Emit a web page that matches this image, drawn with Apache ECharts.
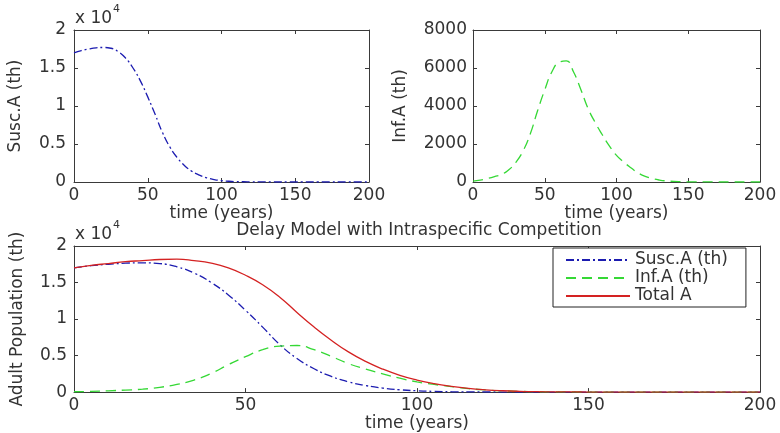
<!DOCTYPE html>
<html>
<head>
<meta charset="utf-8">
<script src="https://cdn.jsdelivr.net/npm/echarts@6/dist/echarts.min.js"></script>
<style>
html,body{margin:0;padding:0;background:#fff;}
#chart{width:780px;height:433px;}
</style>
</head>
<body>
<div id="chart"></div>
<script>
// time in years
const time = [0,5,10,15,20,25,30,35,40,45,50,55,60,65,70,75,80,85,90,95,100,105,110,115,120,125,130,135,140,145,150,155,160,165,170,175,180,185,190,195,200];
// Susceptible adults (thousands)
const suscA = [17000,17300,17500,17650,17700,17600,17150,16300,15000,13300,11200,8900,6500,4600,3200,2150,1400,900,550,320,180,100,50,30,15,8,4,2,1,0,0,0,0,0,0,0,0,0,0,0,0];
// Infected adults (thousands)
const infA = [50,100,180,280,400,650,1050,1650,2550,3750,4850,5800,6300,6380,5800,4900,3900,3150,2500,1900,1400,1050,750,480,300,180,100,55,30,18,10,5,3,2,1,0,0,0,0,0,0];
// Total adults (thousands)
const totalA = [17000,17350,17600,17850,18000,18150,18200,18000,17650,17000,16000,14700,13000,10900,8900,7100,5500,4200,3150,2300,1650,1150,780,500,310,185,105,58,32,18,10,5,3,2,1,0,0,0,0,0,0];

const seriesNames = ['Susc.A (th)','Inf.A (th)','Total A'];
const titleText = 'Delay Model with Intraspecific Competition';
const xName = 'time (years)';

const pairs = arr => time.map((t,i)=>[t,arr[i]]);

const FONT = 'DejaVu Sans';
const TXT = '#333333';
const AX = '#3a3a3a';
const BLUE = '#1c1cb0', GREEN = '#35d835', RED = '#d42222';
const FS = 17;

const grids = [
  {left:74, top:30, width:295, height:152},
  {left:473, top:30, width:287, height:152},
  {left:74, top:246, width:686, height:149}
];

function xAxes(g){
  return [
    {gridIndex:g, type:'value', min:0, max:200, interval:50, position:'bottom',
     name: xName, nameLocation:'middle', nameGap: g===2?18:19,
     nameTextStyle:{fontFamily:FONT, fontSize:FS, color:TXT},
     axisLine:{show:true, onZero:false, lineStyle:{color:AX, width:1}},
     axisTick:{show:true, inside:true, length:4, lineStyle:{color:AX}},
     axisLabel:{show:true, margin:5, fontFamily:FONT, fontSize:FS, color:TXT},
     splitLine:{show:false}},
    {gridIndex:g, type:'value', min:0, max:200, interval:50, position:'top',
     axisLine:{show:true, onZero:false, lineStyle:{color:AX, width:1}},
     axisTick:{show:true, inside:true, length:4, lineStyle:{color:AX}},
     axisLabel:{show:false}, splitLine:{show:false}}
  ];
}
function yAxes(g, max, interval, name, gap, fmt, margin){
  return [
    {gridIndex:g, type:'value', min:0, max:max, interval:interval, position:'left',
     name:name, nameLocation:'middle', nameGap:gap, nameRotate:90,
     nameTextStyle:{fontFamily:FONT, fontSize:FS, color:TXT},
     axisLine:{show:true, onZero:false, lineStyle:{color:AX, width:1}},
     axisTick:{show:true, inside:true, length:4, lineStyle:{color:AX}},
     axisLabel:{show:true, margin:margin, fontFamily:FONT, fontSize:FS, color:TXT, formatter:fmt},
     splitLine:{show:false}},
    {gridIndex:g, type:'value', min:0, max:max, interval:interval, position:'right',
     axisLine:{show:true, onZero:false, lineStyle:{color:AX, width:1}},
     axisTick:{show:true, inside:true, length:4, lineStyle:{color:AX}},
     axisLabel:{show:false}, splitLine:{show:false}}
  ];
}
const fmt4 = v => String(v/10000);

const xA = [].concat(xAxes(0), xAxes(1), xAxes(2));
const yA = [].concat(
  yAxes(0, 20000, 5000, 'Susc.A (th)', 50, fmt4, 8),
  yAxes(1, 8000, 2000, 'Inf.A (th)', 64, v=>String(v), 6),
  yAxes(2, 20000, 5000, 'Adult Population (th)', 48, fmt4, 7)
);

const dashDot = [8,3,2,3];
const dashed = [10,6];

function line(name, data, xi, yi, color, type, z){
  return {name:name, type:'line', xAxisIndex:xi, yAxisIndex:yi, data:pairs(data),
    showSymbol:false, symbol:'none', smooth:true, z:z,
    lineStyle:{color:color, width:1.3, type:type}, itemStyle:{color:color}, animation:false};
}

const series = [
  line('sA', suscA, 0, 0, BLUE, dashDot, 2),
  line('iA', infA, 2, 2, GREEN, dashed, 2),
  line(seriesNames[0], suscA, 4, 4, BLUE, dashDot, 2),
  line(seriesNames[1], infA, 4, 4, GREEN, dashed, 3),
  line(seriesNames[2], totalA, 4, 4, RED, 'solid', 4)
];

const chart = echarts.init(document.getElementById('chart'), null, {renderer:'canvas'});
chart.setOption({
  backgroundColor:'#ffffff',
  animation:false,
  grid: grids,
  xAxis: xA,
  yAxis: yA,
  legend:{
    data: seriesNames,
    orient:'vertical', left:553, top:248,
    padding:[3,18,2,12], itemGap:0, itemWidth:64, itemHeight:14,
    itemStyle:{color:'rgba(0,0,0,0)', borderWidth:0, opacity:0},
    backgroundColor:'#ffffff', borderColor:'#222', borderWidth:1, borderRadius:0,
    textStyle:{fontFamily:FONT, fontSize:FS, color:TXT, lineHeight:18}
  },
  graphic:[
    {type:'text', left:75, top:10, style:{text:'x 10', font:'17px "DejaVu Sans"', fill:TXT}},
    {type:'text', left:113, top:4, style:{text:'4', font:'11px "DejaVu Sans"', fill:TXT}},
    {type:'text', left:75, top:226, style:{text:'x 10', font:'17px "DejaVu Sans"', fill:TXT}},
    {type:'text', left:113, top:220, style:{text:'4', font:'11px "DejaVu Sans"', fill:TXT}},
    {type:'text', x:419, y:231, style:{text:titleText, font:'17px "DejaVu Sans"', fill:TXT, textAlign:'center', textVerticalAlign:'middle'}}
  ],
  series: series
});
</script>
</body>
</html>
